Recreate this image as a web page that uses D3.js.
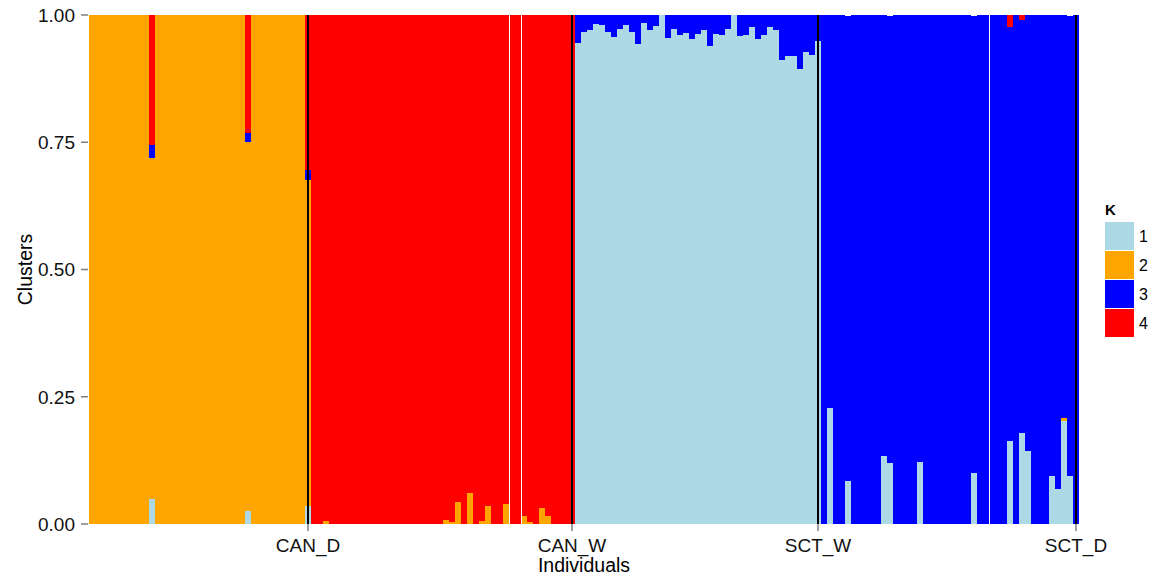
<!DOCTYPE html>
<html>
<head>
<meta charset="utf-8">
<script src="https://cdn.jsdelivr.net/npm/d3@7"></script>
<style>
  body { margin: 0; background: #fff; }
  svg { font-family: "Liberation Sans", Arial, sans-serif; }
</style>
</head>
<body>
<svg width="1155" height="575"></svg>
<script>
// populations and number of individuals in each
var groups = ["CAN_D", "CAN_W", "SCT_W", "SCT_D"];
var groupSizes = [37, 44, 41, 43];

var clusters = ["1", "2", "3", "4"];
var colors = ["#add8e6", "#ffa500", "#0000ff", "#ff0000"];

// ancestry proportions per individual, one array per cluster (rows = populations)
var k1 = [
  0,0,0,0,0,0,0,0,0,0, .049,0,0,0,0,0,0,0,0,0, 0,0,0,0,0,0,.026,0,0,0, 0,0,0,0,0,0,.035,
  0,0,0,0,0,0,0,0,0,0, 0,0,0,0,0,0,0,0,0,0, 0,0,0,0,0,0,0,0,0,0, 0,0,0,0,0,0,0,0,0,0, 0,0,0,0,
  .945,.967,.971,.982,.980,.967,.957,.972,.980,.967, .943,.984,.971,.978,1,.955,.972,.961,.965,.953,
  .963,.971,.939,.963,.961,.972,1,.959,.961,.976, .953,.961,.976,.971,.912,.919,.919,.894,.927,.921, .949,
  0,.228,0,0,.085,0,0,0,0,0, .134,.120,0,0,0,0,.122,0,0,0, 0,0,0,0,0,.100,0,0,0,0,
  0,.163,0,.179,.143,0,0,0,.094,.069, .202,.094,0
];
var k2 = [
  1,1,1,1,1,1,1,1,1,1, .670,1,1,1,1,1,1,1,1,1, 1,1,1,1,1,1,.724,1,1,1, 1,1,1,1,1,1,.641,
  0,0,.005,0,0,0,0,0,0,0, 0,0,0,0,0,0,0,0,0,0, 0,0,.008,.004,.043,0,.061,0,.006,.035, 0,0,.039,0,0,.016,.003,0,.031,.016, 0,0,0,0,
  0,0,0,0,0,0,0,0,0,0, 0,0,0,0,0,0,0,0,0,0, 0,0,0,0,0,0,0,0,0,0, 0,0,0,0,0,0,0,0,0,0, 0,
  0,0,0,0,0,0,0,0,0,0, 0,0,0,0,0,0,0,0,0,0, 0,0,0,0,0,0,0,0,0,0,
  0,0,0,0,0,0,0,0,0,0, .006,0,0
];
var k3 = [
  0,0,0,0,0,0,0,0,0,0, .026,0,0,0,0,0,0,0,0,0, 0,0,0,0,0,0,.018,0,0,0, 0,0,0,0,0,0,.019,
  0,0,0,0,0,0,0,0,0,0, 0,0,0,0,0,0,0,0,0,0, 0,0,0,0,0,0,0,0,0,0, 0,0,0,0,0,0,0,0,0,0, 0,0,0,0,
  .055,.033,.029,.018,.020,.033,.043,.028,.020,.033, .057,.016,.029,.022,0,.045,.028,.039,.035,.047,
  .037,.029,.061,.037,.039,.028,0,.041,.039,.024, .047,.039,.024,.029,.088,.081,.081,.106,.073,.079, .051,
  1,.772,1,1,.913,1,1,1,1,1, .866,.878,1,1,1,1,.878,1,1,1, 1,1,1,1,1,.898,1,1,1,1,
  1,.813,1,.811,.857,1,1,1,.906,.931, .792,.904,1
];
var k4 = [
  0,0,0,0,0,0,0,0,0,0, .255,0,0,0,0,0,0,0,0,0, 0,0,0,0,0,0,.232,0,0,0, 0,0,0,0,0,0,.305,
  1,1,.995,1,1,1,1,1,1,1, 1,1,1,1,1,1,1,1,1,1, 1,1,.992,.996,.957,1,.939,1,.994,.965, 1,1,.961,1,1,.984,.997,1,.969,.984, 1,1,1,1,
  0,0,0,0,0,0,0,0,0,0, 0,0,0,0,0,0,0,0,0,0, 0,0,0,0,0,0,0,0,0,0, 0,0,0,0,0,0,0,0,0,0, 0,
  0,0,0,0,0,0,0,0,0,0, 0,0,0,0,0,0,0,0,0,0, 0,0,0,0,0,0,0,0,0,0,
  0,.024,0,.010,0,0,0,0,0,0, 0,0,0
];
// thin white separators after these individuals
var gapsAfter = [70, 72, 150];
var yTicks = [0, 0.25, 0.5, 0.75, 1];

var svg = d3.select("svg"),
    margin = {top: 15, right: 76, bottom: 51, left: 89},
    width = 1155 - margin.left - margin.right,
    height = 575 - margin.top - margin.bottom,
    g = svg.append("g").attr("transform", "translate(" + margin.left + "," + margin.top + ")");

var n = k1.length;
var ids = d3.range(1, n + 1);
var data = ids.map(function(id, i) {
  return {id: id, "1": k1[i], "2": k2[i], "3": k3[i], "4": k4[i]};
});

// last individual of each population
var ends = [];
var acc = 0;
groupSizes.forEach(function(s) { acc += s; ends.push(acc); });

var x = d3.scaleBand().domain(ids).range([0, width]).padding(0);
var y = d3.scaleLinear().domain([0, 1]).range([height, 0]);
var z = d3.scaleOrdinal().domain(clusters).range(colors);

g.append("g")
  .selectAll("g")
  .data(d3.stack().keys(clusters)(data))
  .enter().append("g")
    .attr("fill", function(d) { return z(d.key); })
  .selectAll("rect")
  .data(function(d) { return d; })
  .enter().append("rect")
    .attr("x", function(d) { return x(d.data.id); })
    .attr("y", function(d) { return y(d[1]); })
    .attr("height", function(d) { return y(d[0]) - y(d[1]); })
    .attr("width", x.bandwidth() + 0.3)
    .attr("shape-rendering", "crispEdges");

g.append("g")
  .selectAll("line")
  .data(gapsAfter)
  .enter().append("line")
    .attr("x1", function(d) { return x(d) + x.bandwidth() + 0.5; })
    .attr("x2", function(d) { return x(d) + x.bandwidth() + 0.5; })
    .attr("y1", 0)
    .attr("y2", height)
    .attr("stroke", "#fff")
    .attr("stroke-width", 1);

// population boundaries
g.append("g")
  .selectAll("line")
  .data(ends)
  .enter().append("line")
    .attr("x1", function(d) { return x(d) + x.bandwidth() / 2; })
    .attr("x2", function(d) { return x(d) + x.bandwidth() / 2; })
    .attr("y1", 0)
    .attr("y2", height)
    .attr("stroke", "#000")
    .attr("stroke-width", 2);

// x axis
var xa = g.append("g").attr("transform", "translate(0," + height + ")");
xa.selectAll("line")
  .data(ends)
  .enter().append("line")
    .attr("x1", function(d) { return x(d) + x.bandwidth() / 2; })
    .attr("x2", function(d) { return x(d) + x.bandwidth() / 2; })
    .attr("y1", 0)
    .attr("y2", 7)
    .attr("stroke", "#808080")
    .attr("stroke-width", 1.5);
xa.selectAll("text")
  .data(ends)
  .enter().append("text")
    .attr("x", function(d) { return x(d) + x.bandwidth() / 2; })
    .attr("y", 28)
    .attr("text-anchor", "middle")
    .attr("font-size", 19)
    .attr("fill", "#111")
    .text(function(d, i) { return groups[i]; });

// y axis
var ya = g.append("g");
ya.selectAll("line")
  .data(yTicks)
  .enter().append("line")
    .attr("x1", -8)
    .attr("x2", -1)
    .attr("y1", function(d) { return y(d); })
    .attr("y2", function(d) { return y(d); })
    .attr("stroke", "#808080")
    .attr("stroke-width", 1.5);
ya.selectAll("text")
  .data(yTicks)
  .enter().append("text")
    .attr("x", -14)
    .attr("y", function(d) { return y(d); })
    .attr("dy", "0.36em")
    .attr("text-anchor", "end")
    .attr("font-size", 19)
    .attr("fill", "#111")
    .text(function(d) { return d3.format(".2f")(d); });

svg.append("text")
  .attr("x", margin.left + width / 2)
  .attr("y", 572)
  .attr("text-anchor", "middle")
  .attr("font-size", 19.5)
  .attr("fill", "#000")
  .text("Individuals");

svg.append("text")
  .attr("transform", "translate(32," + (margin.top + height / 2) + ") rotate(-90)")
  .attr("text-anchor", "middle")
  .attr("font-size", 19.5)
  .attr("fill", "#000")
  .text("Clusters");

// legend
var legend = svg.append("g").attr("transform", "translate(1105,222)");
legend.append("text")
  .attr("x", 0)
  .attr("y", -7)
  .attr("font-size", 15)
  .attr("font-weight", "bold")
  .text("K");
var keys = legend.selectAll("g.key")
  .data(clusters)
  .enter().append("g")
    .attr("class", "key")
    .attr("transform", function(d, i) { return "translate(0," + i * 29 + ")"; });
keys.append("rect")
  .attr("width", 29)
  .attr("height", 28)
  .attr("fill", z);
keys.append("text")
  .attr("x", 34)
  .attr("y", 14)
  .attr("dy", "0.36em")
  .attr("font-size", 16)
  .text(function(d) { return d; });
</script>
</body>
</html>
